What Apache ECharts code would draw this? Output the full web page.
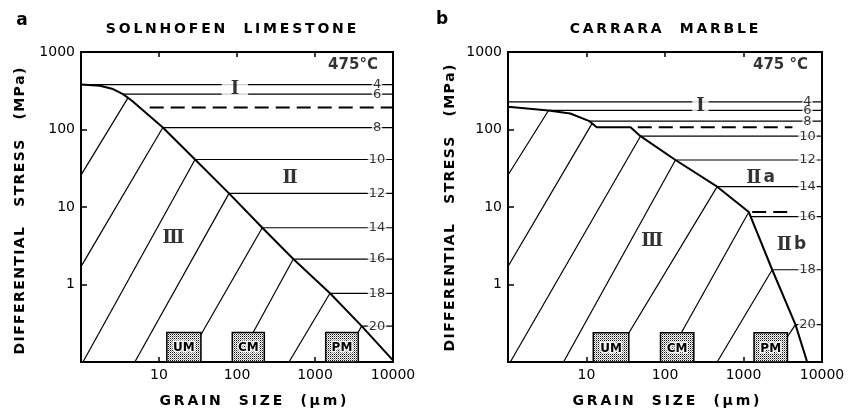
<!DOCTYPE html>
<html>
<head>
<meta charset="utf-8">
<script src="https://cdn.jsdelivr.net/npm/echarts@6/dist/echarts.min.js"></script>
<style>
  html, body { margin: 0; padding: 0; background: #fff; }
  #chart { width: 851px; height: 412px; }
</style>
</head>
<body>
<div id="chart"></div>
<script>
// contour labels (log strain rate) shared by both maps
const contourLabels = ['4', '6', '8', '10', '12', '14', '16', '18', '20'];

// ---- a: Solnhofen limestone (grain size um, stress MPa) ----
const aBoundary = [[1, 380], [1.75, 366], [2.5, 336], [3.45, 286], [4.5, 235], [11.2, 106], [29, 41], [79, 15],
  [211, 5.4], [527, 2.13], [1557, 0.77], [3970, 0.29], [10000, 0.105]];
const aContourStress = [380, 286, 106, 41, 15, 5.4, 2.13, 0.77, 0.29];
const aContourStart = [1, 3.45, 11.2, 29, 79, 211, 527, 1557, 3970];
const aDashed = [[[7.6, 192], [10000, 192]]];
const aDiagonals = [
  [[1, 25.8], [4.0, 256]], [[1, 1.7], [11.2, 106]], [[1.06, 0.1], [29, 41]], [[4.9, 0.1], [79, 15]],
  [[21.7, 0.1], [211, 5.4]], [[100, 0.1], [527, 2.13]], [[464, 0.1], [1557, 0.77]], [[2155, 0.1], [3970, 0.29]]
];
const aBoxNames = ['UM', 'CM', 'PM'];
const aBoxFrom = [12.6, 87, 1371];
const aBoxTo = [34.5, 224, 3590];
const aBoxTop = 0.24;
const aRegions = [['Ⅰ', 94, 330], ['Ⅱ', 478, 23.4], ['Ⅲ', 15.3, 3.9]];

// ---- b: Carrara marble ----
const bBoundary = [[1, 196], [3.28, 176], [6.2, 161], [10.9, 128], [13.5, 107], [36.4, 107], [48.7, 82], [136, 40.4],
  [462, 18.3], [1169, 8.6], [2321, 1.55], [4594, 0.304], [6475, 0.1]];
const bContourStress = [227, 176, 128, 82, 40.4, 18.3, 7.5, 1.55, 0.304];
const bContourStart = [1, 3.28, 10.9, 48.7, 136, 462, 1228, 2321, 4594];
const bDashed = [[[45, 107], [4200, 107]], [[1291, 8.6], [4200, 8.6]]];
const bDiagonals = [
  [[1, 25.9], [3.28, 176]], [[1, 1.71], [11.8, 120]], [[1.07, 0.1], [48.7, 82]], [[5.1, 0.1], [136, 40.4]],
  [[20.7, 0.1], [462, 18.3]], [[100, 0.1], [1169, 8.6]], [[462, 0.1], [2321, 1.55]], [[2208, 0.1], [4594, 0.304]]
];
const bBoxNames = ['UM', 'CM', 'PM'];
const bBoxFrom = [12.2, 87.7, 1362];
const bBoxTo = [34.6, 233, 3630];
const bBoxTop = 0.238;
const bRegions = [['Ⅰ', 283, 200], ['Ⅱ{s|a}', 1648, 23.7], ['Ⅱ{s|b}', 4086, 3.25], ['Ⅲ', 68.7, 3.6]];

const FONT = 'DejaVu Sans';
const ROMAN = '"DejaVu Serif", "Liberation Serif"';

// stipple fill for the microstructure boxes
const dots = document.createElement('canvas');
dots.width = 2; dots.height = 2;
(function () {
  const c = dots.getContext('2d');
  c.fillStyle = '#fff'; c.fillRect(0, 0, 2, 2);
  c.fillStyle = '#111'; c.fillRect(0, 0, 1, 1);
  c.fillStyle = '#999'; c.fillRect(1, 1, 1, 1);
})();
const stipple = { image: dots, repeat: 'repeat' };

const spaced = s => s.split('').join('\u2009');

function line(xi, yi, data, width, dashed) {
  return {
    type: 'line', xAxisIndex: xi, yAxisIndex: yi, data: data, symbol: 'none', silent: true, z: 3,
    lineStyle: { color: '#000', width: width, type: dashed ? [14, 7] : 'solid' }
  };
}

function labels(xi, yi, items, style) {
  return {
    type: 'scatter', xAxisIndex: xi, yAxisIndex: yi, symbolSize: 0, silent: true, z: 5,
    data: items.map(d => ({ name: d[0], value: [d[1], d[2]] })),
    label: Object.assign({ show: true, position: 'inside', formatter: p => p.name, color: '#000' }, style)
  };
}

function boxes(xi, yi, names, from, to, top) {
  return {
    type: 'custom', xAxisIndex: xi, yAxisIndex: yi, silent: true, z: 6,
    encode: { x: [0, 1], y: [2, 3] },
    data: names.map((n, i) => [from[i], to[i], top, 0.1]),
    renderItem: function (params, api) {
      const p0 = api.coord([api.value(0), api.value(2)]);
      const p1 = api.coord([api.value(1), api.value(3)]);
      return {
        type: 'group', children: [
          { type: 'rect', shape: { x: p0[0], y: p0[1], width: p1[0] - p0[0], height: p1[1] - p0[1] },
            style: { fill: stipple, stroke: '#000', lineWidth: 1.5 } },
          { type: 'text', style: { text: names[params.dataIndex], x: (p0[0] + p1[0]) / 2, y: (p0[1] + p1[1]) / 2 + 1,
              align: 'center', verticalAlign: 'middle', font: 'bold 12px "' + FONT + '"',
              fill: '#000', stroke: '#f4f4f4', lineWidth: 3 } }
        ]
      };
    }
  };
}

const romanStyle = { fontFamily: ROMAN, fontSize: 18, fontWeight: 'bold',
  rich: { s: { fontFamily: FONT, fontSize: 17, padding: [0, 0, 0, 2] } } };

function panelSeries(xi, yi, boundary, cStress, cStart, dashed, diagonals, boxNames, boxFrom, boxTo, boxTop,
                     regions, labelX, regionI, temp) {
  const s = [];
  contourLabels.forEach((t, i) => s.push(line(xi, yi, [[cStart[i], cStress[i]], [10000, cStress[i]]], 1.2)));
  dashed.forEach(d => s.push(line(xi, yi, d, 2, true)));
  diagonals.forEach(d => s.push(line(xi, yi, d, 1.2)));
  s.push(line(xi, yi, boundary, 2));
  s.push(labels(xi, yi, contourLabels.map((t, i) => [t, labelX, cStress[i]]),
    { fontFamily: FONT, fontSize: 13, backgroundColor: '#fff', padding: [0, 1], lineHeight: 10 }));
  s.push(labels(xi, yi, regions.slice(0, 1),
    Object.assign({ backgroundColor: '#fff', padding: regionI }, romanStyle)));
  s.push(labels(xi, yi, regions.slice(1), romanStyle));
  s.push(labels(xi, yi, [temp], { fontFamily: FONT, fontSize: 15, fontWeight: 'bold' }));
  s.push(boxes(xi, yi, boxNames, boxFrom, boxTo, boxTop));
  return s;
}

const tickLabel = { fontFamily: FONT, fontSize: 14, color: '#000', margin: 6 };
function xAxes(gi) {
  return [
    { type: 'log', gridIndex: gi, min: 1, max: 10000, position: 'bottom', splitNumber: 4,
      axisLine: { show: false }, splitLine: { show: false },
      axisTick: { inside: true, length: 5, lineStyle: { color: '#000', width: 1.5 } },
      axisLabel: Object.assign({ formatter: v => (v < 5 ? '' : String(Math.round(v))) }, tickLabel) },
    { type: 'log', gridIndex: gi, min: 1, max: 10000, position: 'top', splitNumber: 4,
      axisLine: { show: false }, splitLine: { show: false }, axisLabel: { show: false },
      axisTick: { inside: true, length: 5, lineStyle: { color: '#000', width: 1.5 } } }
  ];
}
function yAxis(gi) {
  return { type: 'log', gridIndex: gi, min: 0.1, max: 1000, splitNumber: 4,
    axisLine: { show: false, onZero: false }, splitLine: { show: false },
    axisTick: { inside: true, length: 6, lineStyle: { color: '#000', width: 1.5 } },
    axisLabel: Object.assign({ formatter: v => (v < 0.5 ? '' : String(Math.round(v))) }, tickLabel) };
}

const titleFont = 'bold 14px "' + FONT + '"';
function text(x, y, s, font, rot) {
  return { type: 'text', x: x, y: y, rotation: rot || 0, silent: true,
    style: { text: s, font: font, fill: '#000', textAlign: 'center', textVerticalAlign: 'middle' } };
}

const chart = echarts.init(document.getElementById('chart'), null, { renderer: 'canvas' });
chart.setOption({
  animation: false,
  backgroundColor: '#fff',
  grid: [
    { left: 81, top: 52, width: 312, height: 310, show: true, borderColor: '#000', borderWidth: 2 },
    { left: 508, top: 52, width: 314, height: 310, show: true, borderColor: '#000', borderWidth: 2 }
  ],
  xAxis: xAxes(0).concat(xAxes(1)),
  yAxis: [yAxis(0), yAxis(1)],
  graphic: [
    text(22, 21, 'a', 'bold 17px "' + FONT + '"'),
    text(442, 20, 'b', 'bold 17px "' + FONT + '"'),
    text(231, 29, spaced('SOLNHOFEN  LIMESTONE'), titleFont),
    text(664, 29, spaced('CARRARA  MARBLE'), titleFont),
    text(253, 401, spaced('GRAIN  SIZE  (μm)'), titleFont),
    text(666, 401, spaced('GRAIN  SIZE  (μm)'), titleFont),
    text(20, 211, 'DIFFERENTIAL   STRESS   (MPa)'.split('').join('\u200a'), titleFont, Math.PI / 2),
    text(450, 208, 'DIFFERENTIAL   STRESS   (MPa)'.split('').join('\u200a'), titleFont, Math.PI / 2)
  ],
  series: panelSeries(0, 0, aBoundary, aContourStress, aContourStart, aDashed, aDiagonals,
      aBoxNames, aBoxFrom, aBoxTo, aBoxTop, aRegions, 6240, [1, 9], ['475°C', 3070, 674])
    .concat(panelSeries(2, 1, bBoundary, bContourStress, bContourStart, bDashed, bDiagonals,
      bBoxNames, bBoxFrom, bBoxTo, bBoxTop, bRegions, 6535, [0, 4], ['475 °C', 2960, 674]))
});
</script>
</body>
</html>
